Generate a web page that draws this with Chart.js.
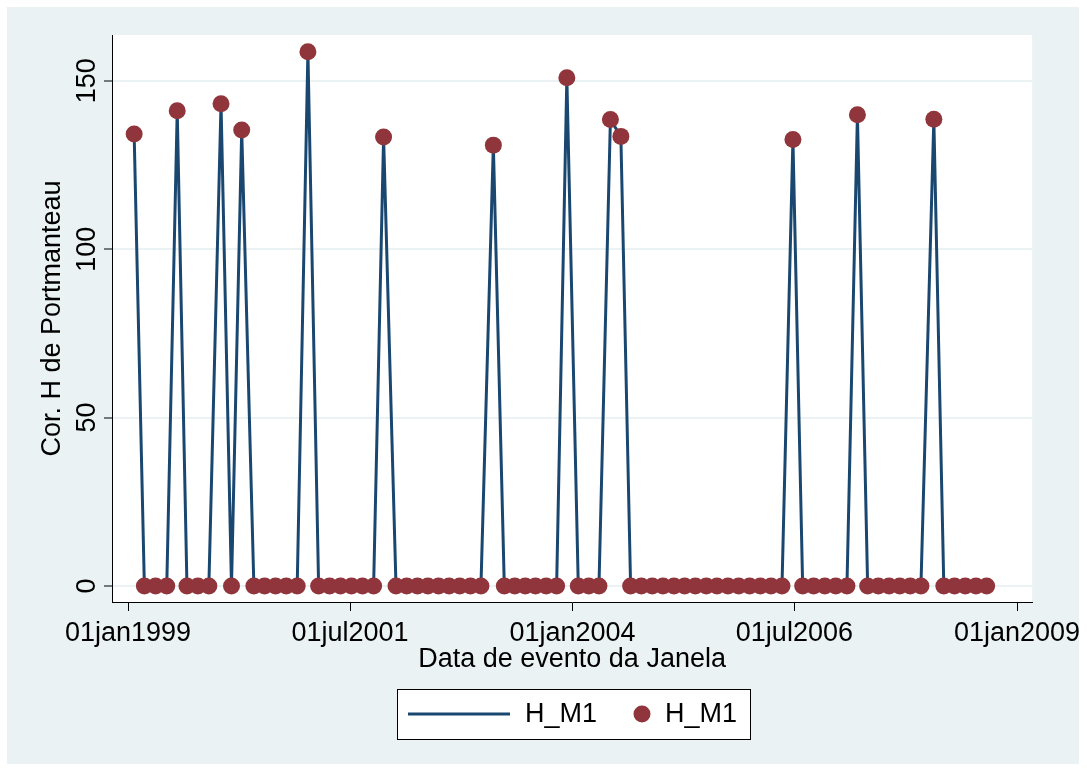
<!DOCTYPE html>
<html>
<head>
<meta charset="utf-8">
<script src="https://cdn.jsdelivr.net/npm/chart.js@4.4.1/dist/chart.umd.min.js"></script>
<style>
  html, body { margin: 0; padding: 0; background: #fff; }
  canvas { display: block; }
</style>
</head>
<body>
<canvas id="chart" width="1087" height="771"></canvas>
<script>
var navy = '#1a476f';
var maroon = '#90353b';
var bgColor = '#eaf2f3';
var fontFamily = 'Arial, "Liberation Sans", Helvetica, sans-serif';
var fontSize = 27;

// event window dates and the portmanteau H statistic for each
var windowDates = [
  '1999-01-26', '1999-03-09', '1999-04-24', '1999-06-09', '1999-07-22', '1999-08-31', '1999-10-15', '1999-11-29',
  '2000-01-18', '2000-03-01', '2000-04-12', '2000-06-01', '2000-07-15', '2000-08-29', '2000-10-12', '2000-11-26',
  '2001-01-09', '2001-02-22', '2001-04-08', '2001-05-23', '2001-07-07', '2001-08-21', '2001-10-06', '2001-11-16',
  '2002-01-06', '2002-02-19', '2002-04-04', '2002-05-17', '2002-06-30', '2002-08-12', '2002-09-25', '2002-11-08', '2002-12-21',
  '2003-02-10', '2003-03-27', '2003-05-09', '2003-06-21', '2003-08-02', '2003-09-15', '2003-10-28', '2003-12-09',
  '2004-01-25', '2004-03-08', '2004-04-19', '2004-06-05', '2004-07-18', '2004-08-27', '2004-10-10', '2004-11-24',
  '2005-01-07', '2005-02-21', '2005-04-06', '2005-05-20', '2005-07-04', '2005-08-17', '2005-10-01', '2005-11-14', '2005-12-29',
  '2006-02-11', '2006-03-27', '2006-05-11', '2006-06-25', '2006-08-04', '2006-09-18', '2006-11-03', '2006-12-18',
  '2007-02-02', '2007-03-17', '2007-04-28', '2007-06-11', '2007-07-25', '2007-09-07', '2007-10-20', '2007-12-03',
  '2008-01-25', '2008-03-06', '2008-04-19', '2008-06-02', '2008-07-16', '2008-08-29'
];
var hValues = [
  134.2, 0, 0, 0, 141.1, 0, 0, 0,
  143.2, 0, 135.4, 0, 0, 0, 0, 0,
  158.6, 0, 0, 0, 0, 0, 0, 133.3,
  0, 0, 0, 0, 0, 0, 0, 0, 0,
  130.9, 0, 0, 0, 0, 0, 0, 150.9,
  0, 0, 0, 138.5, 133.5, 0, 0, 0,
  0, 0, 0, 0, 0, 0, 0, 0, 0,
  0, 0, 0, 132.6, 0, 0, 0, 0,
  0, 139.9, 0, 0, 0, 0, 0, 0,
  138.6, 0, 0, 0, 0, 0
];
var xTickDates = ['1999-01-01', '2001-07-01', '2004-01-01', '2006-07-01', '2009-01-01'];
var yTicks = [0, 50, 100, 150];
var seriesName = 'H_M1';
var monthNames = ['jan', 'feb', 'mar', 'apr', 'may', 'jun', 'jul', 'aug', 'sep', 'oct', 'nov', 'dec'];

function dayNum(s) { return Date.parse(s) / 864e5; }

// Stata %td style: 01jan1999
function tdFormat(d) {
  var t = new Date(Math.round(d) * 864e5);
  var dd = t.getUTCDate();
  return (dd < 10 ? '0' : '') + dd + monthNames[t.getUTCMonth()] + t.getUTCFullYear();
}

var points = windowDates.map(function(d, i) { return { x: dayNum(d), y: hValues[i] }; });
var start = dayNum('1999-01-01');

var framePlugin = {
  id: 'frame',
  beforeDraw: function(chart) {
    var ctx = chart.ctx, a = chart.chartArea;
    ctx.save();
    ctx.fillStyle = '#fff';
    ctx.fillRect(0, 0, chart.width, chart.height);
    ctx.fillStyle = bgColor;
    ctx.fillRect(7, 7, chart.width - 15, chart.height - 14);
    ctx.fillStyle = '#fff';
    ctx.fillRect(a.left, a.top, a.right - a.left, a.bottom - a.top);
    ctx.restore();
  },
  afterDraw: function(chart) {
    var ctx = chart.ctx, ys = chart.scales.y;
    ctx.save();
    ctx.fillStyle = '#000';
    ctx.font = fontSize + 'px ' + fontFamily;
    ctx.textAlign = 'center';
    ctx.textBaseline = 'middle';
    // vertical y tick labels
    yTicks.forEach(function(v) {
      ctx.save();
      ctx.translate(88, ys.getPixelForValue(v));
      ctx.rotate(-Math.PI / 2);
      ctx.fillText(String(v), 0, 0);
      ctx.restore();
    });

    // legend box
    ctx.fillStyle = '#fff';
    ctx.fillRect(397, 689, 353, 50);
    ctx.strokeStyle = '#000';
    ctx.lineWidth = 1;
    ctx.strokeRect(397.5, 689.5, 353, 50);
    var ly = 714;
    var ds = chart.data.datasets;
    ctx.strokeStyle = ds[0].borderColor;
    ctx.lineWidth = 3;
    ctx.beginPath();
    ctx.moveTo(408, ly);
    ctx.lineTo(510, ly);
    ctx.stroke();
    ctx.fillStyle = ds[1].backgroundColor;
    ctx.beginPath();
    ctx.arc(642, ly, 8.5, 0, Math.PI * 2);
    ctx.fill();
    ctx.fillStyle = '#000';
    ctx.textAlign = 'left';
    ctx.fillText(ds[0].label, 525, ly + 1);
    ctx.fillText(ds[1].label, 665, ly + 1);
    ctx.restore();
  }
};

new Chart(document.getElementById('chart').getContext('2d'), {
  type: 'scatter',
  data: {
    datasets: [
      { label: seriesName, data: points, showLine: true, borderColor: navy, borderWidth: 3,
        pointRadius: 0, tension: 0, order: 2 },
      { label: seriesName, data: points, showLine: false, backgroundColor: maroon, borderColor: maroon,
        borderWidth: 0, pointRadius: 8.5, order: 1 }
    ]
  },
  options: {
    responsive: false,
    animation: false,
    layout: { padding: { left: 0, top: 35, right: 53, bottom: 89 } },
    plugins: { legend: { display: false }, tooltip: { enabled: false } },
    scales: {
      x: {
        type: 'linear',
        min: start - 66, max: start + 3715,
        afterBuildTicks: function(scale) {
          scale.ticks = xTickDates.map(function(d) { return { value: dayNum(d) }; });
        },
        afterFit: function(scale) { scale.height = 80; },
        ticks: { callback: function(v) { return tdFormat(v); }, autoSkip: false, maxRotation: 0,
          font: { family: fontFamily, size: fontSize }, color: '#000', padding: 6 },
        grid: { drawOnChartArea: false, drawTicks: true, tickLength: 9, tickColor: '#000', tickWidth: 1 },
        border: { display: true, color: '#000', width: 1 },
        title: { display: true, text: 'Data de evento da Janela', color: '#000',
          font: { family: fontFamily, size: fontSize }, padding: { top: 0, bottom: 6 } }
      },
      y: {
        min: -4.75, max: 163.6,
        afterBuildTicks: function(scale) {
          scale.ticks = yTicks.map(function(v) { return { value: v }; });
        },
        afterFit: function(scale) { scale.width = 112; },
        ticks: { display: false },
        grid: { color: bgColor, lineWidth: 2, drawTicks: true, tickLength: 8, tickColor: '#000', tickWidth: 1 },
        border: { display: true, color: '#000', width: 1 },
        title: { display: true, text: 'Cor. H de Portmanteau', color: '#000',
          font: { family: fontFamily, size: fontSize }, padding: { top: 36, bottom: 0 } }
      }
    }
  },
  plugins: [framePlugin]
});
</script>
</body>
</html>
